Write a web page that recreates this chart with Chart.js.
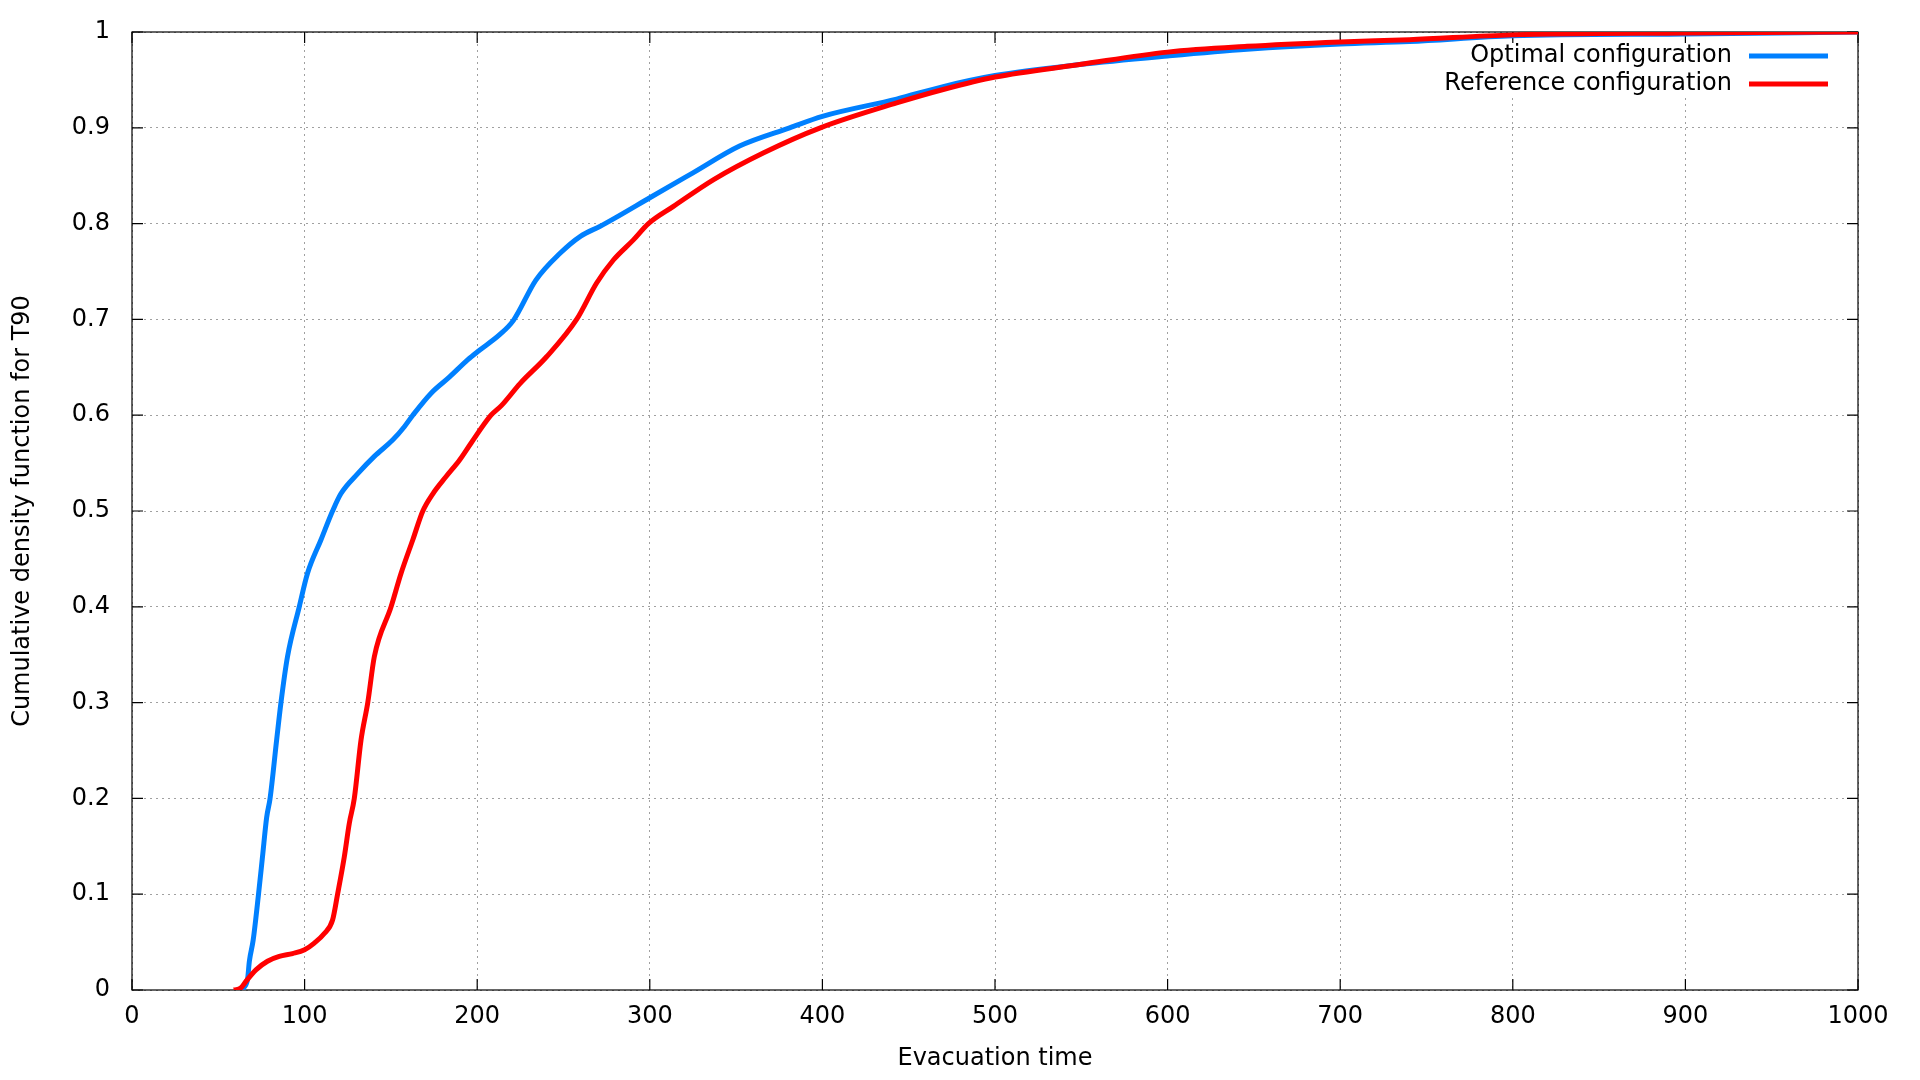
<!DOCTYPE html>
<html>
<head>
<meta charset="utf-8">
<script src="https://cdn.jsdelivr.net/npm/chart.js@4"></script>
<style>
  html, body { margin: 0; padding: 0; background: #ffffff; }
  #wrap { width: 1920px; height: 1080px; }
</style>
</head>
<body>
<div id="wrap"><canvas id="c" width="1920" height="1080"></canvas></div>
<script>
// ---- Data ----
const seriesLabels = ["Optimal configuration", "Reference configuration"];

const optimalTime = [63, 65, 67, 68, 70.2, 73.3, 75.6, 78, 80, 83.8, 86.3, 90.1, 96.9, 101.7, 109.5, 116.2, 121, 130.8, 140.4, 151, 157.8, 162.7, 173.3, 184, 194.6, 200, 213, 221, 234, 248, 260, 271, 280, 300, 325, 352, 381, 400, 443, 470, 500, 549, 600, 646, 700, 740, 800, 900, 1000];
const optimalCdf  = [0, 0.003, 0.012, 0.03, 0.052, 0.1, 0.139, 0.18, 0.2, 0.261, 0.3, 0.348, 0.4, 0.435, 0.47, 0.5, 0.518, 0.539, 0.557, 0.574, 0.588, 0.6, 0.623, 0.64, 0.658, 0.666, 0.684, 0.699, 0.741, 0.769, 0.787, 0.797, 0.806, 0.827, 0.853, 0.881, 0.9, 0.912, 0.93, 0.943, 0.9545, 0.966, 0.975, 0.982, 0.9875, 0.99, 0.996, 0.998, 1.0];

const referenceTime = [59, 63, 66, 71.8, 78.5, 85.3, 93, 100, 105.6, 111.4, 116.2, 119.1, 123, 125.9, 128.8, 132.7, 136.6, 140.4, 150.1, 155.9, 162.7, 168.5, 174.3, 182, 189.7, 196.5, 208, 214, 224.8, 240.2, 257.6, 269.2, 278.9, 290.5, 299.2, 313.7, 337, 366, 398.8, 443, 470, 500, 549, 600, 646, 700, 740, 800, 900, 1000];
const referenceCdf  = [0, 0.002, 0.009, 0.021, 0.03, 0.035, 0.038, 0.042, 0.049, 0.059, 0.073, 0.1, 0.139, 0.174, 0.2, 0.261, 0.3, 0.348, 0.4, 0.435, 0.47, 0.5, 0.518, 0.536, 0.553, 0.571, 0.6, 0.61, 0.633, 0.661, 0.7, 0.738, 0.762, 0.783, 0.8, 0.818, 0.846, 0.874, 0.9, 0.926, 0.94, 0.953, 0.966, 0.979, 0.985, 0.9896, 0.992, 0.997, 0.999, 1.0];

const xTickValues = [0, 100, 200, 300, 400, 500, 600, 700, 800, 900, 1000];
const xTickLabels = ["0", "100", "200", "300", "400", "500", "600", "700", "800", "900", "1000"];
const yTickValues = [0, 0.1, 0.2, 0.3, 0.4, 0.5, 0.6, 0.7, 0.8, 0.9, 1];
const yTickLabels = ["0", "0.1", "0.2", "0.3", "0.4", "0.5", "0.6", "0.7", "0.8", "0.9", "1"];

const xTitle = "Evacuation time";
const yTitle = "Cumulative density function for T90";

// ---- Chart ----
const BLUE = "rgb(0,128,255)";
const RED = "rgb(255,0,0)";
const FONT = "'DejaVu Sans', 'Liberation Sans', sans-serif";

Chart.defaults.font.family = FONT;
Chart.defaults.font.size = 24;
Chart.defaults.color = "#000000";

function pts(xs, ys) { return xs.map((x, i) => ({ x: x, y: ys[i] })); }
function labelFor(values, labels) {
  return (v) => { const i = values.findIndex(t => Math.abs(t - v) < 1e-9); return i >= 0 ? labels[i] : ""; };
}

// Frame + inward ticks (gnuplot style) and key
const framePlugin = {
  id: "frame",
  beforeDatasetsDraw(chart) {
    const { ctx, chartArea: a, scales } = chart;
    ctx.save();
    // blank area behind the key
    ctx.fillStyle = "#ffffff";
    ctx.fillRect(a.right - 420, a.top + 12, 410, 54);
    ctx.strokeStyle = "#000000";
    ctx.lineWidth = 1.2;
    ctx.setLineDash([]);
    ctx.strokeRect(a.left, a.top, a.right - a.left, a.bottom - a.top);
    const L = 11;
    ctx.beginPath();
    xTickValues.forEach(v => {
      const px = scales.x.getPixelForValue(v);
      ctx.moveTo(px, a.bottom); ctx.lineTo(px, a.bottom - L);
      ctx.moveTo(px, a.top); ctx.lineTo(px, a.top + L);
    });
    yTickValues.forEach(v => {
      const py = scales.y.getPixelForValue(v);
      ctx.moveTo(a.left, py); ctx.lineTo(a.left + L, py);
      ctx.moveTo(a.right, py); ctx.lineTo(a.right - L, py);
    });
    ctx.stroke();
    ctx.restore();
  },
  afterDatasetsDraw(chart) {
    const { ctx, chartArea: a } = chart;
    const colors = [BLUE, RED];
    ctx.save();
    ctx.font = "24px " + FONT;
    ctx.fillStyle = "#000000";
    ctx.textAlign = "right";
    ctx.textBaseline = "middle";
    seriesLabels.forEach((lab, i) => {
      const y = a.top + 24 + i * 28;
      ctx.fillText(lab, a.right - 126, y);
      ctx.strokeStyle = colors[i];
      ctx.lineWidth = 5;
      ctx.beginPath();
      ctx.moveTo(a.right - 109, y);
      ctx.lineTo(a.right - 30, y);
      ctx.stroke();
    });
    ctx.restore();
  }
};

new Chart(document.getElementById("c"), {
  type: "line",
  data: {
    datasets: [
      {
        label: seriesLabels[0],
        data: pts(optimalTime, optimalCdf),
        borderColor: BLUE,
        backgroundColor: BLUE,
        borderWidth: 5,
        pointRadius: 0,
        cubicInterpolationMode: "monotone",
        fill: false,
        order: 1
      },
      {
        label: seriesLabels[1],
        data: pts(referenceTime, referenceCdf),
        borderColor: RED,
        backgroundColor: RED,
        borderWidth: 5,
        pointRadius: 0,
        cubicInterpolationMode: "monotone",
        fill: false,
        order: 0
      }
    ]
  },
  options: {
    responsive: false,
    animation: false,
    devicePixelRatio: 1,
    layout: { padding: { top: 32, right: 62, left: 0, bottom: 0 } },
    plugins: { legend: { display: false }, tooltip: { enabled: false } },
    scales: {
      x: {
        type: "linear",
        min: 0, max: 1000,
        afterBuildTicks(scale) { scale.ticks = xTickValues.map(v => ({ value: v })); },
        afterFit(scale) { scale.height = 90; scale.paddingLeft = 0; scale.paddingRight = 0; },
        ticks: { padding: 12, maxRotation: 0, autoSkip: false, font: { size: 24 }, color: "#000",
                 callback: labelFor(xTickValues, xTickLabels) },
        grid: { color: "#a0a0a0", lineWidth: 1, drawTicks: false },
        border: { display: false, dash: [2, 4] },
        title: { display: true, text: xTitle, font: { size: 24 }, color: "#000", padding: { top: 0, bottom: 7 } }
      },
      y: {
        type: "linear",
        min: 0, max: 1,
        afterBuildTicks(scale) { scale.ticks = yTickValues.map(v => ({ value: v })); },
        afterFit(scale) { scale.width = 132; scale.paddingTop = 0; scale.paddingBottom = 0; },
        ticks: { padding: 22, autoSkip: false, font: { size: 24 }, color: "#000",
                 callback: labelFor(yTickValues, yTickLabels) },
        grid: { color: "#a0a0a0", lineWidth: 1, drawTicks: false },
        border: { display: false, dash: [2, 4] },
        title: { display: true, text: yTitle, font: { size: 24 }, color: "#000", padding: { top: 8, bottom: 0 } }
      }
    }
  },
  plugins: [framePlugin]
});
</script>
</body>
</html>
